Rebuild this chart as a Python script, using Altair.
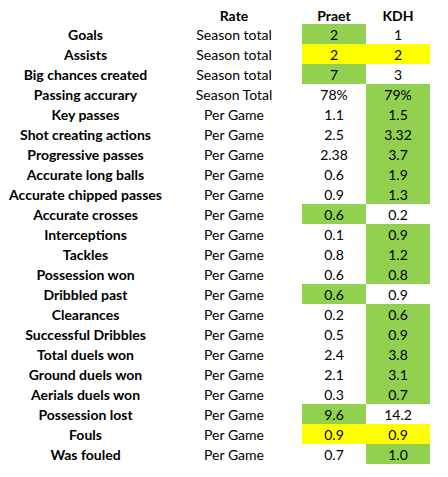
import altair as alt
import pandas as pd

metrics = [
    "Goals", "Assists", "Big chances created", "Passing accurary", "Key passes",
    "Shot creating actions", "Progressive passes", "Accurate long balls",
    "Accurate chipped passes", "Accurate crosses", "Interceptions", "Tackles",
    "Possession won", "Dribbled past", "Clearances", "Successful Dribbles",
    "Total duels won", "Ground duels won", "Aerials duels won",
    "Possession lost", "Fouls", "Was fouled",
]
rates = (["Season total"] * 3 + ["Season Total"] + ["Per Game"] * 18)
praet = ["2", "2", "7", "78%", "1.1", "2.5", "2.38", "0.6", "0.9", "0.6",
         "0.1", "0.8", "0.6", "0.6", "0.2", "0.5", "2.4", "2.1", "0.3",
         "9.6", "0.9", "0.7"]
kdh = ["1", "2", "3", "79%", "1.5", "3.32", "3.7", "1.9", "1.3", "0.2",
       "0.9", "1.2", "0.8", "0.9", "0.6", "0.9", "3.8", "3.1", "0.7",
       "14.2", "0.9", "1.0"]
# who is better in each row ("tie" when equal)
better = ["Praet", "tie", "Praet", "KDH", "KDH", "KDH", "KDH", "KDH", "KDH",
          "Praet", "KDH", "KDH", "KDH", "Praet", "KDH", "KDH", "KDH", "KDH",
          "KDH", "Praet", "tie", "KDH"]
players = ["Praet", "KDH"]
header_rate = "Rate"

n = len(metrics)
row_ids = list(range(n + 1))  # 0 = header

rows = pd.DataFrame({"row": list(range(1, n + 1)), "metric": metrics, "rate": rates})

cells = []
for i in range(n):
    for p, vals in zip(players, [praet, kdh]):
        if better[i] == "tie":
            st = "tie"
        elif better[i] == p:
            st = "best"
        else:
            st = "none"
        cells.append({"row": i + 1, "player": p, "value": vals[i], "status": st})
cells = pd.DataFrame(cells)
header = pd.DataFrame({"row": [0, 0], "player": players, "value": players})
rate_header = pd.DataFrame({"row": [0], "rate": [header_rate]})

FONT = "Lato"
FS = 14
DY = 1.5

yenc = alt.Y("row:O", scale=alt.Scale(domain=row_ids, range=[-4, 456],
                                      paddingInner=0, paddingOuter=0), axis=None)
xenc = alt.X("player:N", scale=alt.Scale(domain=players, range=[294, 422],
                                         paddingInner=0, paddingOuter=0), axis=None)

txt = dict(font=FONT, fontSize=FS, color="black", baseline="middle")

rects = alt.Chart(cells).transform_filter(alt.datum.status != "none").mark_rect().encode(
    x=xenc, y=yenc,
    color=alt.Color("status:N", scale=alt.Scale(domain=["best", "tie"],
                                                range=["#92D050", "#FFFF00"]), legend=None),
)
vals = alt.Chart(cells).mark_text(dy=DY, **txt).encode(x=xenc, y=yenc, text="value:N")
heads = alt.Chart(header).mark_text(fontWeight="bold", dy=3, **txt).encode(
    x=xenc, y=yenc, text="value:N")
labels = alt.Chart(rows).mark_text(fontWeight="bold", dy=DY, **txt).encode(
    x=alt.value(77.5), y=yenc, text="metric:N")
rate_txt = alt.Chart(rows).mark_text(dy=DY, **txt).encode(
    x=alt.value(226), y=yenc, text="rate:N")
rate_head = alt.Chart(rate_header).mark_text(fontWeight="bold", dy=3, **txt).encode(
    x=alt.value(226), y=yenc, text="rate:N")

chart = alt.layer(rects, vals, heads, labels, rate_txt, rate_head).properties(
    width=432, height=456, padding=0, autosize=alt.AutoSizeParams(type="none"),
    background="white",
).configure_view(stroke=None)

chart.save("out.html", embed_options={"renderer": "svg", "actions": False})
